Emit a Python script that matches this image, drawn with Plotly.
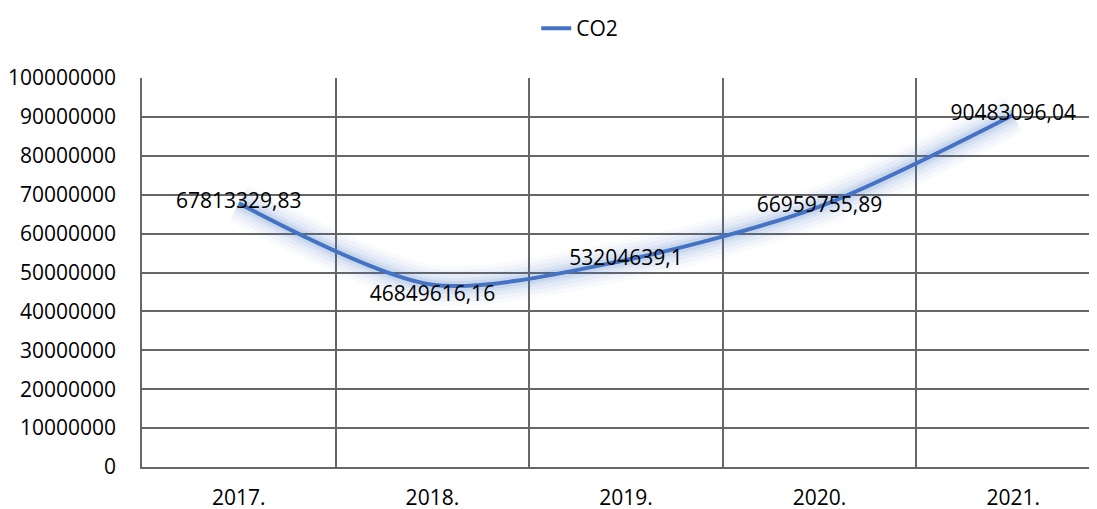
import plotly.graph_objects as go

years = ["2017.", "2018.", "2019.", "2020.", "2021."]
co2 = [67813329.83, 46849616.16, 53204639.1, 66959755.89, 90483096.04]
labels = ["67813329,83", "46849616,16", "53204639,1", "66959755,89", "90483096,04"]
label_pos = ["middle center", "bottom center", "middle center", "middle center", "middle center"]
y_ticks = list(range(0, 100000001, 10000000))

FONT = "Open Sans"
LINE = "#4472C4"
GRID = "#666666"

xs = list(range(len(years)))
bounds = [i - 0.5 for i in xs]

fig = go.Figure()

# soft glow under the line
for w, a in [(40, 0.035), (32, 0.045), (24, 0.06), (16, 0.08), (10, 0.1)]:
    fig.add_trace(go.Scatter(
        x=xs, y=co2, mode="lines",
        line=dict(color=f"rgba(68,114,196,{a})", width=w, shape="spline", smoothing=0.8),
        showlegend=False, hoverinfo="skip"))

fig.add_trace(go.Scatter(
    x=xs, y=co2, mode="lines", name="CO2",
    line=dict(color=LINE, width=4, shape="spline", smoothing=0.8)))

fig.add_trace(go.Scatter(
    x=xs, y=co2, mode="text", text=labels, textposition=label_pos,
    textfont=dict(family=FONT, size=21, color="#000000"),
    showlegend=False, hoverinfo="skip"))

fig.update_layout(
    width=1089, height=509,
    margin=dict(l=134, r=0, t=70, b=50, autoexpand=False),
    paper_bgcolor="white", plot_bgcolor="white",
    font=dict(family=FONT, size=21, color="#000000"),
    legend=dict(orientation="h", xref="container", yref="container",
                x=0.525, xanchor="center", y=1.0, yanchor="top",
                font=dict(family=FONT, size=21, color="#000000")),
    xaxis=dict(range=[-0.5, 4.433], tickvals=xs, ticktext=years,
               showgrid=False, zeroline=False, automargin=False,
               minor=dict(tickvals=bounds, showgrid=True, gridcolor=GRID,
                          gridwidth=1.5, ticks="", ticklen=0),
               ticks="outside", ticklen=11, tickcolor="rgba(0,0,0,0)",
               showline=True, linecolor=GRID, linewidth=1.5),
    yaxis=dict(range=[0, 100000000], tickvals=y_ticks,
               ticktext=[str(v) for v in y_ticks],
               showgrid=True, gridcolor=GRID, gridwidth=1.5,
               zeroline=False, automargin=False,
               ticks="outside", ticklen=20, tickcolor="rgba(0,0,0,0)",
               showline=True, linecolor=GRID, linewidth=1.5),
)

fig.write_html("out.html")
